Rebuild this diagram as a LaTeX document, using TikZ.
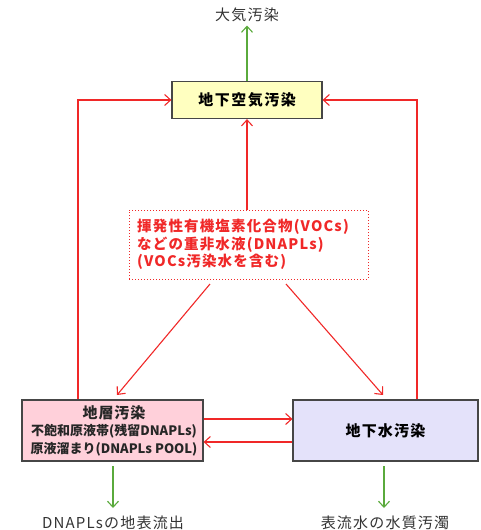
\documentclass[tikz,border=0pt]{standalone}
\usepackage{fontspec}
\setmainfont{Noto Sans CJK JP}
\usetikzlibrary{arrows.meta}
\definecolor{rd}{RGB}{240,40,40}
\definecolor{gr}{RGB}{90,170,60}
\definecolor{yl}{RGB}{255,255,192}
\definecolor{pk}{RGB}{255,208,218}
\definecolor{lv}{RGB}{228,226,250}
\definecolor{bd}{RGB}{70,70,70}
\begin{document}
\begin{tikzpicture}[x=1pt,y=-1pt,
  box/.style={draw=bd,line width=1.2pt,inner sep=0pt},
  redarrow/.style={draw=rd,line width=1.1pt,-{Straight Barb[length=6pt,width=11pt]}},
  greenarrow/.style={draw=gr,line width=1.1pt,-{Straight Barb[length=6pt,width=11pt]}},
  lbl/.style={font=\fontsize{15}{17}\selectfont\addfontfeature{LetterSpace=8},text=black!80}]
\useasboundingbox (0,0) rectangle (481,530);
\node[box,fill=yl,minimum width=150pt,minimum height=37pt,font=\fontsize{15}{17}\selectfont\bfseries\addfontfeature{LetterSpace=10}] (air) at (247,100) {地下空気汚染};
\node[lbl] (atm) at (247,15) {大気汚染};
\node[draw=rd,dotted,line width=1pt,minimum width=239pt,minimum height=69pt,inner sep=0pt] (src) at (248.5,244.5) {};
\node[text=rd,align=left,anchor=west,font=\fontsize{14.5}{17.5}\selectfont\bfseries\addfontfeature{LetterSpace=8},inner sep=0pt] (srct) at (137,244.5) {揮発性有機塩素化合物(VOCs)\\などの重非水液(DNAPLs)\\(VOCs汚染水を含む)};
\node[box,fill=pk,minimum width=181pt,minimum height=61pt] (soil) at (112.5,430.5) {};
\node[align=center,font=\fontsize{13}{17.5}\selectfont\bfseries,text=black!85,inner sep=0pt] (soilt) at (114,430.5) {{\fontsize{15}{17.5}\selectfont\addfontfeature{LetterSpace=6}地層汚染}\\不飽和原液帯(残留DNAPLs)\\原液溜まり(DNAPLs POOL)};
\node[box,fill=lv,minimum width=185pt,minimum height=61pt,font=\fontsize{15}{17}\selectfont\bfseries\addfontfeature{LetterSpace=8}] (gw) at (385.5,430.5) {地下水汚染};
\node[lbl] (dl) at (113,523) {DNAPLsの地表流出};
\node[lbl] (dr) at (385,523) {表流水の水質汚濁};
\coordinate (lt) at (78,100);
\coordinate (rt) at (417,100);
\draw[greenarrow] (air.north) -- (atm.south);
\draw[redarrow] (src.north -| air) -- (air.south);
\draw[redarrow] (210,284) -- (117,395);
\draw[redarrow] (286,284) -- (383,395);
\draw[redarrow] (soil.north -| lt) -- (lt) -- (air.west);
\draw[redarrow] (gw.north -| rt) -- (rt) -- (air.east);
\draw[redarrow] (soil.east |- 0,419) -- (gw.west |- 0,419);
\draw[redarrow] (gw.west |- 0,442) -- (soil.east |- 0,442);
\draw[greenarrow] (113,466) -- (113,508);
\draw[greenarrow] (384,466) -- (384,508);
\end{tikzpicture}
\end{document}
